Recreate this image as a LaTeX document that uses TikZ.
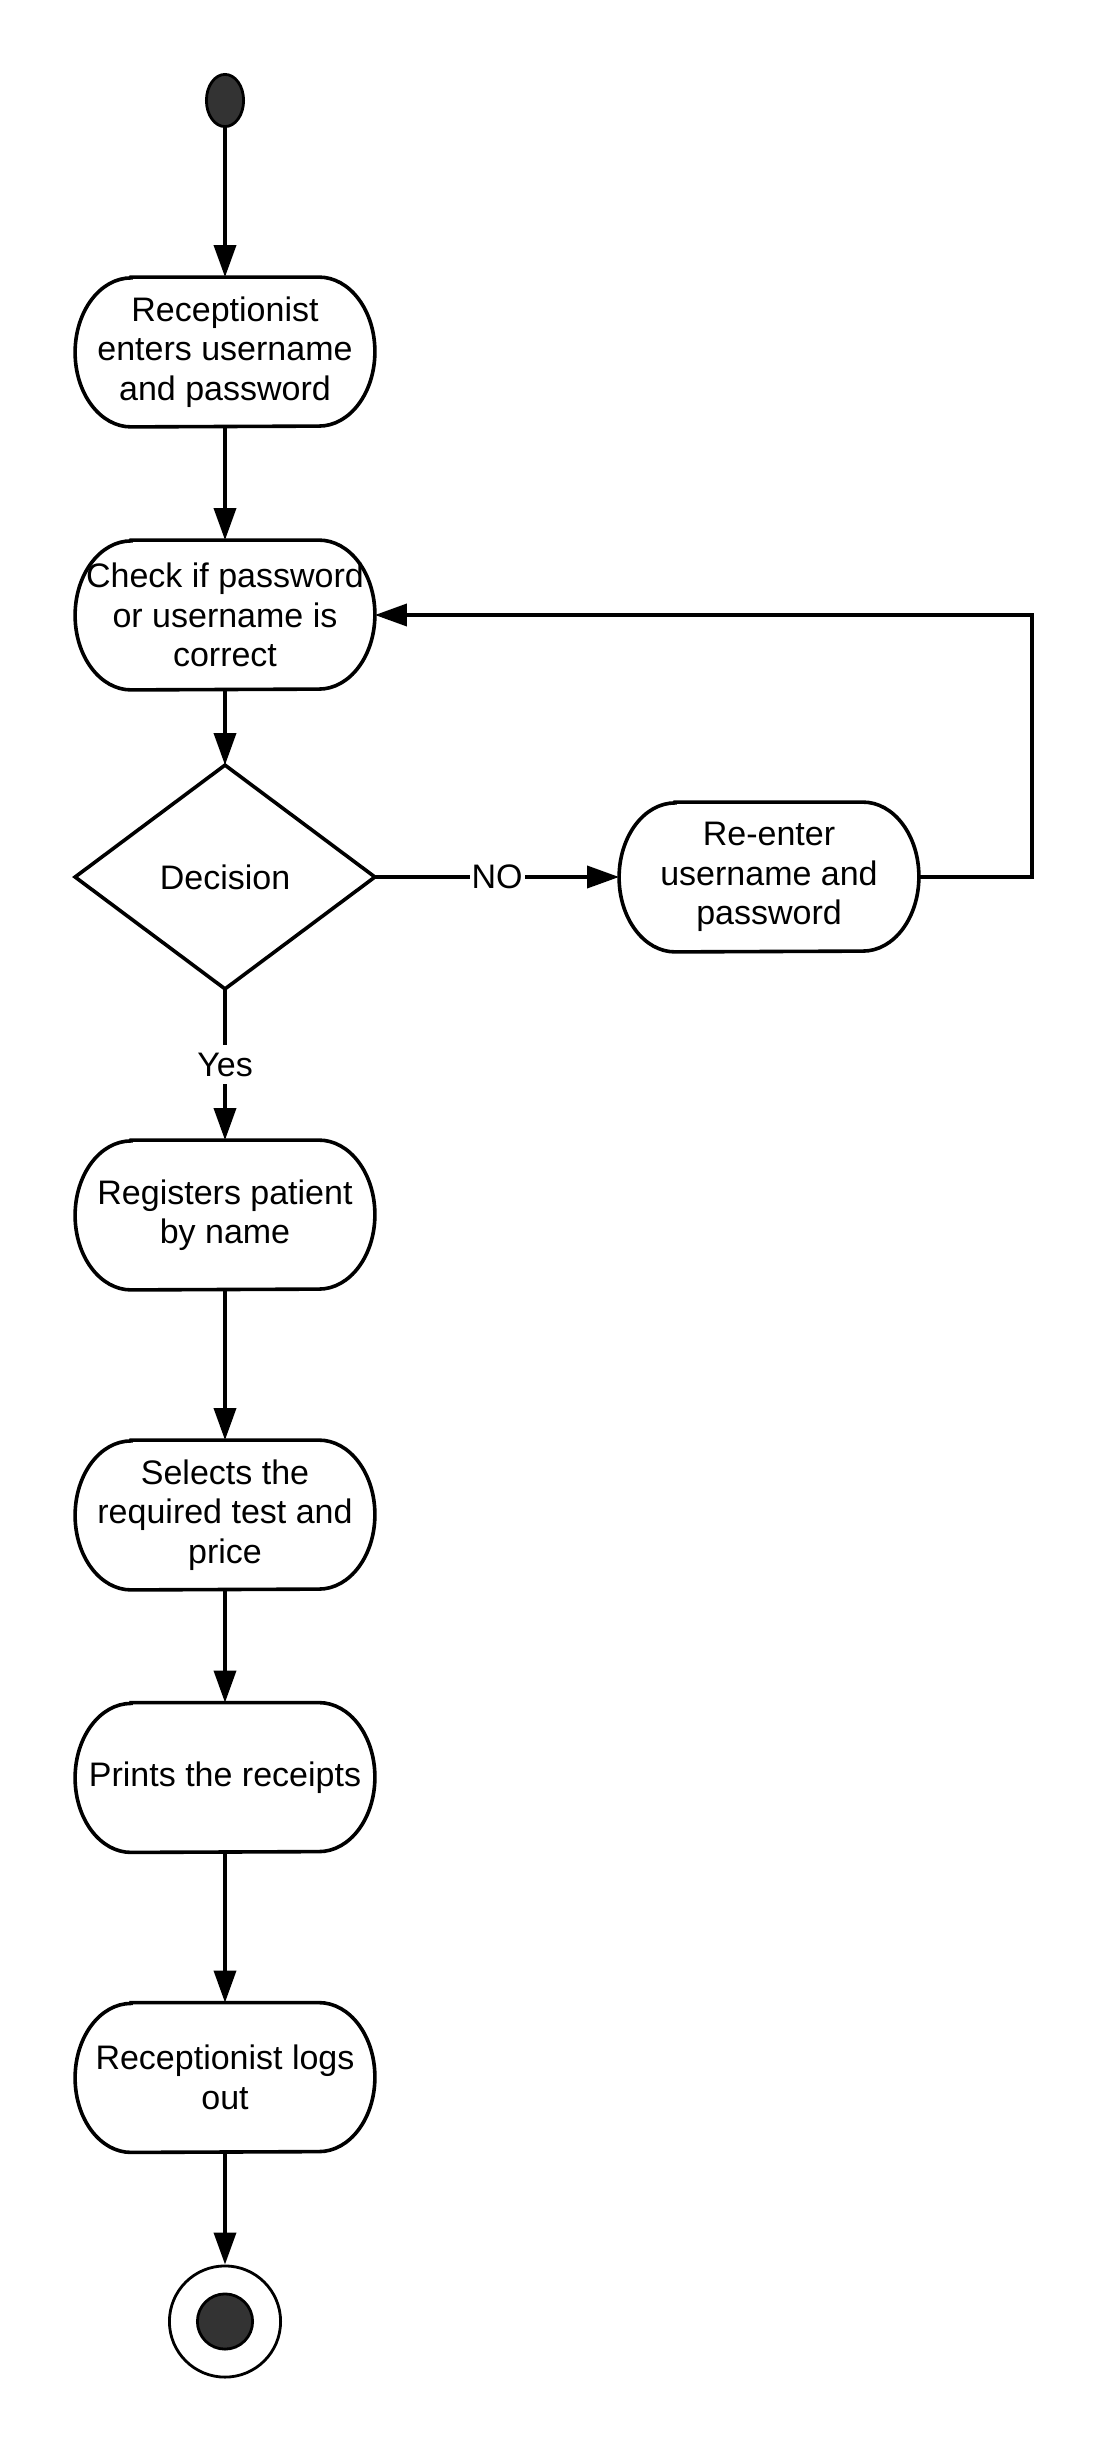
\documentclass[tikz,border=0pt]{standalone}
\usepackage{fontspec}
\setmainfont{Liberation Sans}
\usetikzlibrary{arrows.meta,shapes.geometric,calc}
\definecolor{dotgray}{HTML}{333333}
\tikzset{
  conn/.style={line width=1.8pt, -{Triangle[length=16pt,width=11pt]}},
  pillnode/.style={rectangle, draw=none, minimum width=149.5pt, minimum height=74.5pt, inner sep=0pt, align=center, font=\fontsize{17}{19.75}\selectfont},
  outline/.style={line width=1.8pt},
  lbl/.style={fill=white, inner xsep=1pt, inner ysep=4pt, font=\fontsize{17}{19.75}\selectfont},
  startdot/.style={ellipse, fill=dotgray, draw=black, line width=1.4pt, minimum width=18.6pt, minimum height=26.1pt, inner sep=0pt},
}
\newcommand\pillshape[1]{%
  \draw[outline] ([xshift=28pt]#1.north west) -- ([xshift=-28pt]#1.north east)
    arc[start angle=90,end angle=-90,x radius=28pt,y radius=37.25pt]
    -- ([xshift=28pt]#1.south west)
    arc[start angle=270,end angle=90,x radius=28pt,y radius=37.25pt] -- cycle;}
\begin{document}
\begin{tikzpicture}
\useasboundingbox (0pt,0pt) rectangle (554pt,-1228pt);
\fill[white] (0pt,0pt) rectangle (554pt,-1228pt);

\node[startdot] (st) at (112.5pt,-50.25pt) {};
\node[pillnode] (b1) at (112.5pt,-176pt) {Receptionist\\enters username\\and password};
\node[pillnode] (b2) at (112.5pt,-307.5pt) {Check if password\\or username is\\correct};
\node[rectangle, draw=none, minimum width=149.5pt, minimum height=111.5pt, inner sep=0pt, font=\fontsize{17}{19.75}\selectfont] (dec) at (112.5pt,-438.5pt) {Decision};
\node[pillnode] (re) at (384.5pt,-438.5pt) {Re-enter\\username and\\password};
\node[pillnode] (b3) at (112.5pt,-607.5pt) {Registers patient\\by name};
\node[pillnode] (b4) at (112.5pt,-757.5pt) {Selects the\\required test and\\price};
\node[pillnode] (b5) at (112.5pt,-888.75pt) {Prints the receipts};
\node[pillnode] (b6) at (112.5pt,-1038.75pt) {Receptionist logs\\out};
\node[circle, draw=black, line width=1.4pt, minimum size=55.6pt, inner sep=0pt] (fin) at (112.5pt,-1160.75pt) {};
\node[circle, fill=dotgray, draw=black, line width=1.4pt, minimum size=27.6pt, inner sep=0pt] (fincore) at (fin.center) {};
\coordinate (loopx) at (516pt,0pt);

\pillshape{b1}
\pillshape{b2}
\pillshape{re}
\pillshape{b3}
\pillshape{b4}
\pillshape{b5}
\pillshape{b6}
\draw[outline] (dec.north) -- (dec.east) -- (dec.south) -- (dec.west) -- cycle;

\draw[conn] (st.south) -- (b1.north);
\draw[conn] (b1.south) -- (b2.north);
\draw[conn] (b2.south) -- (dec.north);
\draw[conn] (dec.east) -- node[lbl] {NO} (re.west);
\draw[conn] (re.east) -- (loopx |- re.east) |- (b2.east);
\draw[conn] (dec.south) -- node[lbl] {Yes} (b3.north);
\draw[conn] (b3.south) -- (b4.north);
\draw[conn] (b4.south) -- (b5.north);
\draw[conn] (b5.south) -- (b6.north);
\draw[conn] (b6.south) -- (fin.north);
\end{tikzpicture}
\end{document}
